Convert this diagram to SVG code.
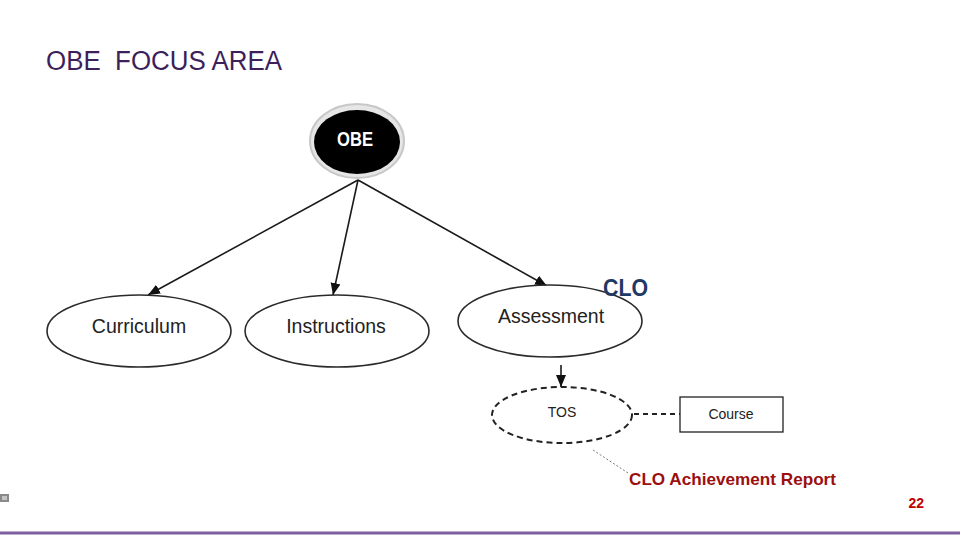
<svg xmlns="http://www.w3.org/2000/svg" width="960" height="540" viewBox="0 0 960 540">
<style>
.node{fill:#fff;stroke:#2a2a2a;stroke-width:1.6}
.lbl{font-family:"Liberation Sans",Arial,sans-serif;font-size:19.5px;fill:#222;text-anchor:middle}
.edge{stroke:#1a1a1a;stroke-width:1.6;fill:none}
</style>
<defs>
<marker id="arr" markerUnits="userSpaceOnUse" markerWidth="13" markerHeight="11" refX="12" refY="5" orient="auto">
<path d="M0,0 L12,5 L0,10 z" fill="#111"/>
</marker>
</defs>
<rect width="960" height="540" fill="#fff"/>
<text x="46" y="70" font-family="Liberation Sans,Arial,sans-serif" font-size="27" fill="#3c1f5b" textLength="236" lengthAdjust="spacingAndGlyphs" xml:space="preserve">OBE  FOCUS AREA</text>

<g id="connectors">
<line class="edge" x1="358" y1="180" x2="148" y2="295" marker-end="url(#arr)"/>
<line class="edge" x1="358" y1="180" x2="333" y2="295" marker-end="url(#arr)"/>
<line class="edge" x1="358" y1="180" x2="547" y2="286" marker-end="url(#arr)"/>
<line class="edge" x1="561" y1="365" x2="561" y2="387" marker-end="url(#arr)"/>
<line x1="634" y1="414" x2="680" y2="414" stroke="#222" stroke-width="2" stroke-dasharray="5,4"/>
<line x1="593" y1="450" x2="628" y2="473" stroke="#555" stroke-width="0.8" stroke-dasharray="2,2"/>
</g>

<g id="obe">
<ellipse cx="357" cy="141" rx="47" ry="37" fill="#e6e6e6" stroke="#c8c8c8" stroke-width="2"/>
<ellipse cx="357" cy="142" rx="43" ry="32" fill="#000"/>
<text x="355" y="146" font-family="Liberation Sans,Arial,sans-serif" font-weight="bold" font-size="21" fill="#fff" text-anchor="middle" textLength="36" lengthAdjust="spacingAndGlyphs">OBE</text>
</g>

<g id="curriculum">
<ellipse class="node" cx="139" cy="331" rx="92" ry="36"/>
<text class="lbl" x="139" y="333">Curriculum</text>
</g>

<g id="instructions">
<ellipse class="node" cx="337" cy="331" rx="92" ry="36"/>
<text class="lbl" x="336" y="333">Instructions</text>
</g>

<g id="assessment">
<ellipse class="node" cx="550" cy="321" rx="92" ry="36"/>
<text class="lbl" x="551" y="323">Assessment</text>
</g>

<text x="603" y="296" font-family="Liberation Sans,Arial,sans-serif" font-weight="bold" font-size="23" fill="#1f3864" textLength="45" lengthAdjust="spacingAndGlyphs">CLO</text>

<g id="tos">
<ellipse cx="562" cy="415" rx="70" ry="28" fill="none" stroke="#222" stroke-width="2" stroke-dasharray="6,4"/>
<text x="562" y="417" font-family="Liberation Sans,Arial,sans-serif" font-size="14" fill="#222" text-anchor="middle">TOS</text>
</g>

<g id="course">
<rect x="680" y="397" width="103" height="35" fill="#fff" stroke="#222" stroke-width="1.3"/>
<text x="731" y="419" font-family="Liberation Sans,Arial,sans-serif" font-size="14" fill="#222" text-anchor="middle">Course</text>
</g>

<text x="629" y="485" font-family="Liberation Sans,Arial,sans-serif" font-weight="bold" font-size="17" fill="#9a0f0f" textLength="207" lengthAdjust="spacingAndGlyphs">CLO Achievement Report</text>

<text x="924" y="508" font-family="Liberation Sans,Arial,sans-serif" font-weight="bold" font-size="14" fill="#c00000" text-anchor="end">22</text>

<rect x="0" y="494" width="9" height="8" fill="#8a8a8a"/>
<rect x="2" y="496" width="5" height="4" fill="#c4c4c4"/>

<line x1="0" y1="533" x2="960" y2="533" stroke="#7e5e9e" stroke-width="3"/>
</svg>
